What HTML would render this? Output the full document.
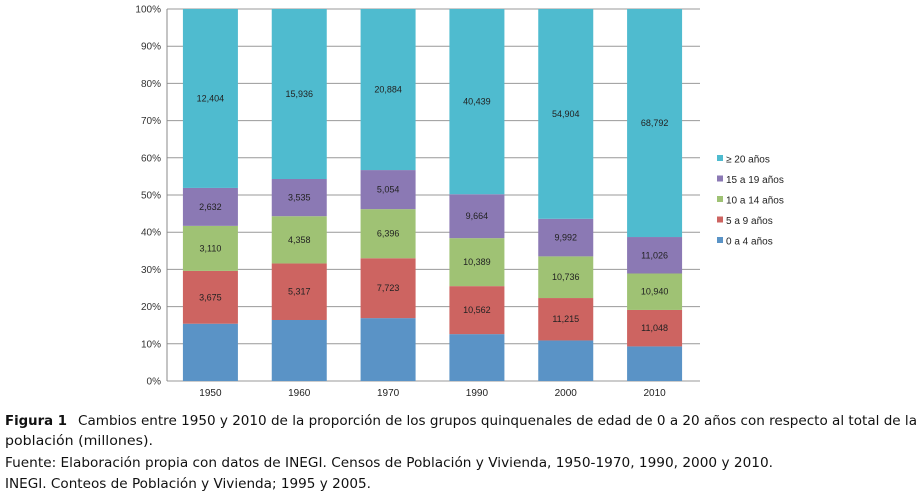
<!DOCTYPE html>
<html><head><meta charset="utf-8"><style>
body{margin:0;background:#fff;}
svg{display:block;font-family:"Liberation Sans",sans-serif;}
</style></head><body>
<svg id="chart" width="920" height="496">
<g id="grid"></g><g id="bars"></g><g id="legend"></g>
<g font-family="'DejaVu Sans',sans-serif" font-size="13.5" fill="#111">
<text x="5" y="425" font-weight="bold" textLength="62" lengthAdjust="spacingAndGlyphs">Figura 1</text>
<text x="78" y="425" textLength="839" lengthAdjust="spacingAndGlyphs">Cambios entre 1950 y 2010 de la proporción de los grupos quinquenales de edad de 0 a 20 años con respecto al total de la</text>
<text x="5" y="445" textLength="148" lengthAdjust="spacingAndGlyphs">población (millones).</text>
<text x="5" y="467" textLength="768" lengthAdjust="spacingAndGlyphs">Fuente: Elaboración propia con datos de INEGI. Censos de Población y Vivienda, 1950-1970, 1990, 2000 y 2010.</text>
<text x="5" y="488" textLength="366" lengthAdjust="spacingAndGlyphs">INEGI. Conteos de Población y Vivienda; 1995 y 2005.</text>
</g>
</svg>
<script>
const categories=["1950","1960","1970","1990","2000","2010"];
const seriesNames=["0 a 4 años","5 a 9 años","10 a 14 años","15 a 19 años","≥ 20 años"];
const colors=["#5a93c6","#cd6461","#9fc274","#8b79b4","#4fbbcf"];
const s0=[15.4,16.4,16.9,12.6,10.9,9.3];
const s1=[14.2,15.2,16.1,12.9,11.4,9.8];
const s2=[12.1,12.7,13.2,12.9,11.2,9.8];
const s3=[10.2,10.0,10.5,11.8,10.1,9.8];
const s4=[48.1,45.7,43.3,49.8,56.4,61.3];
const labels1=["3,675","5,317","7,723","10,562","11,215","11,048"];
const labels2=["3,110","4,358","6,396","10,389","10,736","10,940"];
const labels3=["2,632","3,535","5,054","9,664","9,992","11,026"];
const labels4=["12,404","15,936","20,884","40,439","54,904","68,792"];
const yTicks=[0,10,20,30,40,50,60,70,80,90,100];

const NS="http://www.w3.org/2000/svg";
const X0=167,X1=700,Y0=381,Y1=9;
const y=v=>Y0-(v/100)*(Y0-Y1);
const band=(X1-X0)/categories.length;
const xc=i=>X0+band*(i+0.5)-1;
const BW=55;
function mk(t,a,p){const e=document.createElementNS(NS,t);for(const k in a)e.setAttribute(k,a[k]);p.appendChild(e);return e;}
const grid=document.getElementById('grid');
yTicks.forEach(t=>{
  const l=mk('line',{x1:X0,x2:X1,y1:y(t),y2:y(t),stroke:'#999','stroke-width':1},grid);
  
  
  const tx=mk('text',{x:X0-6,y:y(t)+3.5,'text-anchor':'end','font-size':10,fill:'#333'},grid);
  tx.textContent=t+'%';
  
  
});
const ax=mk('line',{x1:X0,x2:X0,y1:Y1,y2:Y0,stroke:'#888'},grid);


const series=[s0,s1,s2,s3,s4];
const lab=[null,labels1,labels2,labels3,labels4];
const bars=document.getElementById('bars');
categories.forEach((c,i)=>{
  let acc=0;
  series.forEach((s,k)=>{
    const top=acc+s[i];
    const r=mk('rect',{x:xc(i)-BW/2,y:y(top),width:BW,height:y(acc)-y(top),fill:colors[k]},bars);
    
    
    if(lab[k]){
      const mid=acc+s[i]/2;
      const t=mk('text',{x:xc(i),y:y(mid)+3,'text-anchor':'middle','font-size':9,fill:'#222'},bars);
      t.textContent=lab[k][i];
      
      
    }
    acc=top;
  });
  const t=mk('text',{x:xc(i),y:396,'text-anchor':'middle','font-size':10,fill:'#222'},bars);
  t.textContent=c;
  
  
});
const lg=document.getElementById('legend');
[4,3,2,1,0].forEach((k,j)=>{
  const yy=160+j*20.5;
  const r=mk('rect',{x:717,y:yy-5,width:6,height:6,fill:colors[k]},lg);
  
  
  const t=mk('text',{x:726,y:yy+2.5,'font-size':10,fill:'#222'},lg);
  t.textContent=seriesNames[k];
  
  
});
</script>
</body></html>
